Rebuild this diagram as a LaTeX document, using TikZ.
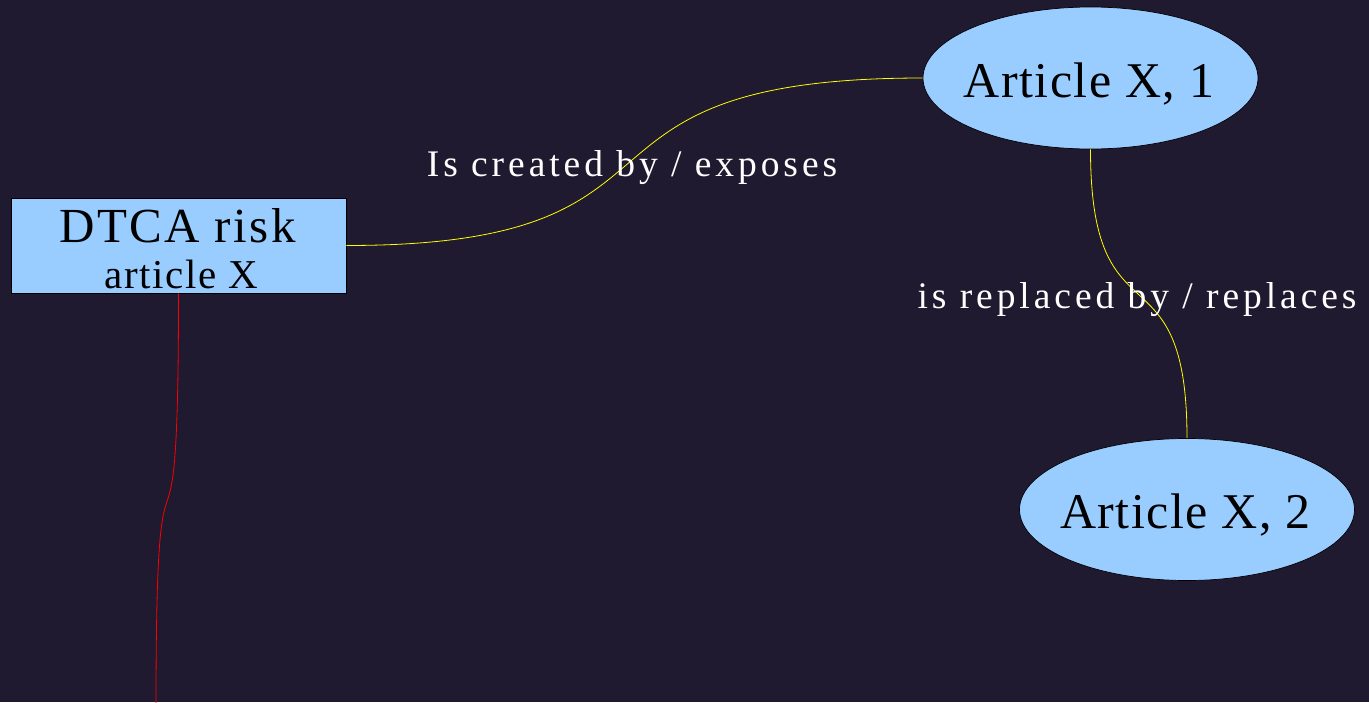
\documentclass[tikz,border=0pt]{standalone}
\usepackage{fontspec}
\setmainfont{Liberation Serif}
\newfontfamily\nodefont[LetterSpace=3]{Liberation Serif}
\newfontfamily\rectfont[LetterSpace=4]{Liberation Serif}
\newfontfamily\rectbigfont[LetterSpace=5]{Liberation Serif}
\newfontfamily\edgefont[LetterSpace=10.5]{Liberation Serif}
\usetikzlibrary{shapes.geometric}
\definecolor{bg}{HTML}{1F1A30}
\definecolor{nodefill}{HTML}{99CCFF}
\definecolor{edgeyellow}{HTML}{FFFF00}
\definecolor{edgered}{HTML}{FF0000}
\begin{document}
\begin{tikzpicture}[x=1pt,y=-1pt,
  article/.style={ellipse, draw=black, line width=0.7pt, fill=nodefill,
    minimum width=335pt, minimum height=142pt, inner sep=0pt,
    font=\nodefont\fontsize{50}{54}\selectfont},
  riskbox/.style={rectangle, draw=black, line width=0.7pt, fill=nodefill,
    minimum width=335pt, minimum height=95pt, inner sep=0pt, align=center,
    font=\rectfont\fontsize{41}{46}\selectfont},
  link/.style={draw=edgeyellow, line width=0.8pt},
  redlink/.style={draw=edgered, line width=0.8pt},
  edgelabel/.style={text=white, inner sep=0pt, anchor=base,
    font=\edgefont\fontsize{37.5}{40}\selectfont}
]
\fill[bg] (0,0) rectangle (1369,702);
\useasboundingbox (0,0) rectangle (1369,702);

\node[riskbox, text height=85pt, text depth=0pt] (risk) at (178.5,245.5)
  {{\rectbigfont\fontsize{49}{46}\selectfont DTCA risk\hspace*{2pt}}\\{\fontsize{41}{46}\selectfont\hspace*{6pt}article X}};
\node[article, text height=38pt, text depth=0pt] (a1) at (1090.5,78)
  {\makebox[200pt][c]{\hspace*{-3pt}Article X, 1}};
\node[article, text height=37pt, text depth=0pt] (a2) at (1187,509.5)
  {\makebox[200pt][c]{\hspace*{-3pt}Article X, 2}};
\coordinate (redend) at (156,706);

\draw[link] (risk.east) .. controls (720,245.5) and (537,78) .. (a1.west);
\draw[link] (a1.south) .. controls (1090.5,350) and (1187,240) .. (a2.north);
\draw[redlink] (risk.south) .. controls (178.5,638) and (156,364) .. (redend);

\node[edgelabel] (l1) at (632,176) {Is created by / exposes};
\node[edgelabel] (l2) at (1137,308) {is replaced by / replaces};
\end{tikzpicture}
\end{document}
